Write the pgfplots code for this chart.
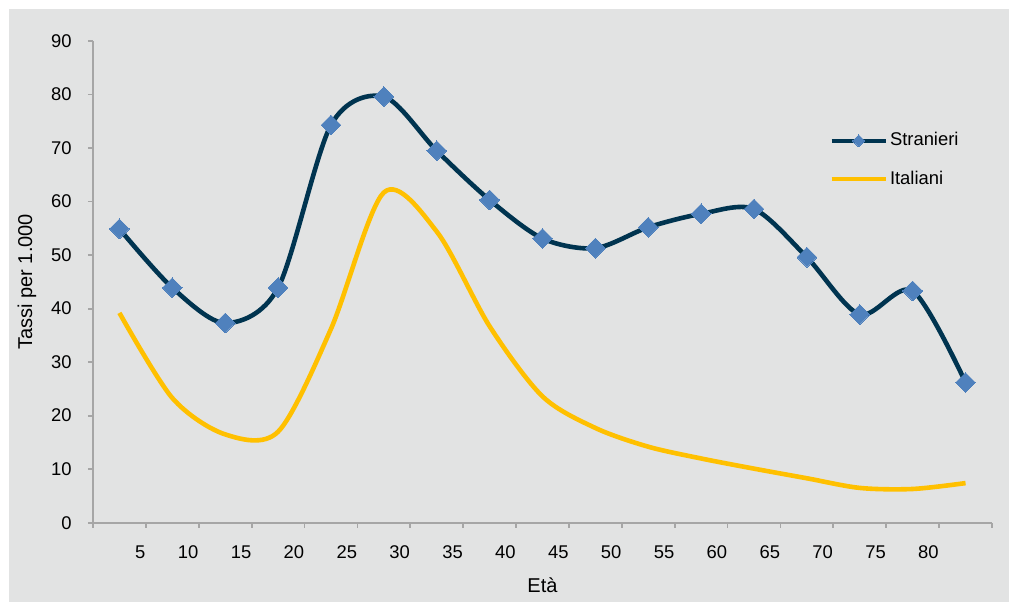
\documentclass[border=0pt]{standalone}
\usepackage{pgfplots}
\pgfplotsset{compat=1.18}
\usepackage{fontspec}
\setmainfont{Liberation Sans}
\definecolor{bgc}{RGB}{226,227,227}
\definecolor{axgray}{RGB}{166,166,166}
\definecolor{navy}{RGB}{0,52,80}
\definecolor{mblue}{RGB}{79,129,189}
\definecolor{gold}{RGB}{255,192,0}
\begin{document}
\begin{tikzpicture}
\fill[white] (0,0) rectangle (504.5pt,301pt);
\fill[bgc] (4.5pt,0) rectangle (504.5pt,296.5pt);
\useasboundingbox (0,0) rectangle (504.5pt,301pt);
\begin{axis}[
  at={(46.5pt,39.65pt)}, anchor=south west,
  scale only axis, width=449.5pt, height=240.85pt,
  xmin=0, xmax=17, ymin=0, ymax=90,
  axis x line*=bottom, axis y line*=left,
  axis line style={draw=axgray, line width=0.9pt, -},
  xtick={0,...,17},
  xticklabels={,5,10,15,20,25,30,35,40,45,50,55,60,65,70,75,80,},
  ytick={0,10,...,90},
  tick align=outside,
  major tick length=2.5pt,
  tick style={draw=axgray, line width=0.9pt},
  /pgf/number format/assume math mode=true,
  tick label style={font=\fontsize{9.2}{11}\selectfont, text=black},
  xticklabel style={anchor=north east, inner sep=0pt, yshift=-8.65pt},
  yticklabel style={anchor=east, inner sep=0pt, xshift=-8pt},
  xlabel={Età}, ylabel={Tassi per 1.000},
  label style={font=\fontsize{9.2}{11}\selectfont},
  every axis x label/.style={at={(axis description cs:0.5,-0.129)}, anchor=center},
  every axis y label/.style={at={(axis description cs:-0.0734,0.5)}, rotate=90, anchor=center},
  clip=false,
  legend style={at={(axis description cs:0.8187,0.753)}, anchor=west, draw=none, fill=none,
    inner sep=0pt, row sep=9pt, font=\fontsize{9.2}{11}\selectfont,
    nodes={inner sep=1pt}},
  legend cell align=left,
  legend image code/.code={\draw[mark repeat=2, mark phase=2, #1, every mark/.append style={scale=0.6}] plot coordinates {(0pt,0pt) (13.5pt,0pt) (27pt,0pt)};},
]
\addplot[navy, line width=2.3pt, smooth, mark=square*, mark size=3.5pt,
  mark options={fill=mblue, draw=mblue, rotate=45, line width=0pt}]
  coordinates {
  (0.5,54.9) (1.5,43.9) (2.5,37.3) (3.5,43.9) (4.5,74.3) (5.5,79.6) (6.5,69.5)
  (7.5,60.3) (8.5,53.1) (9.5,51.3) (10.5,55.2) (11.5,57.7) (12.5,58.6)
  (13.5,49.6) (14.5,38.9) (15.5,43.3) (16.5,26.2)};
\addlegendentry{Stranieri}
\addplot[gold, line width=2.3pt, smooth, no markers]
  coordinates {
  (0.5,39.2) (1.5,23.3) (2.5,16.5) (3.5,17.0) (4.5,36.2) (5.5,61.7) (6.5,54.4)
  (7.5,36.7) (8.5,23.6) (9.5,17.7) (10.5,14.2) (11.5,12.0) (12.5,10.1)
  (13.5,8.3) (14.5,6.5) (15.5,6.3) (16.5,7.4)};
\addlegendentry{Italiani}
\end{axis}
\end{tikzpicture}
\end{document}
